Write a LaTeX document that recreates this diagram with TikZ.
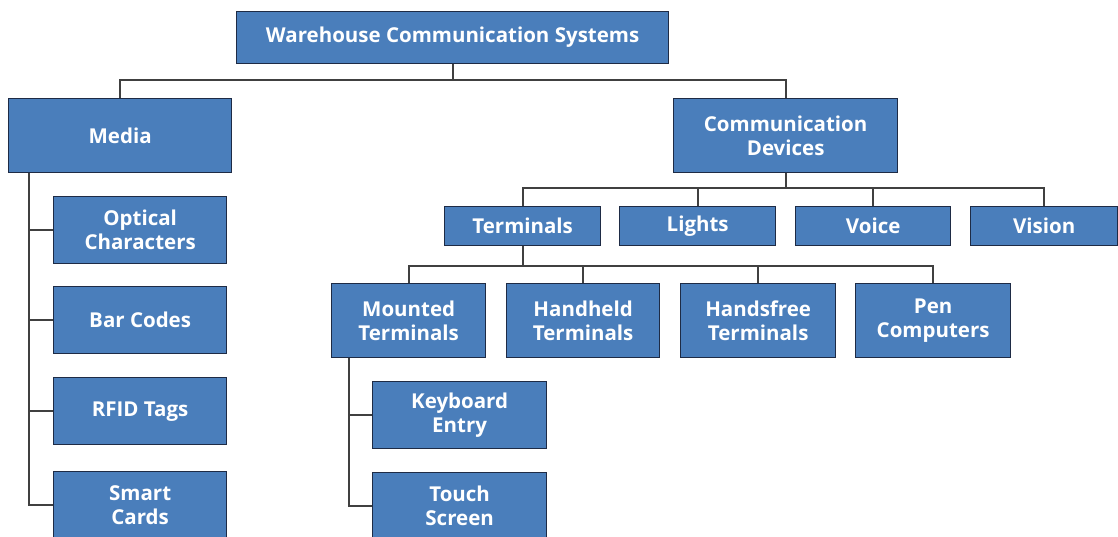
\documentclass[tikz,border=0pt]{standalone}
\usepackage{fontspec}
\setmainfont{Open Sans}
\definecolor{boxblue}{HTML}{4A7EBB}
\definecolor{boxedge}{HTML}{1E2B45}
\definecolor{linegray}{HTML}{404040}
\begin{document}
\begin{tikzpicture}[x=1pt,y=-1pt,
  bx/.style={draw=boxedge,line width=1.3pt,fill=boxblue,text=white,font=\bfseries\fontsize{20.5}{24}\selectfont,align=center,inner sep=0pt,anchor=north west},
  ln/.style={draw=linegray,line width=1.8pt}]
\useasboundingbox (0,0) rectangle (1118,537);
\clip (0,0) rectangle (1118,537);
\newcommand\bxat[6]{\node[bx,minimum width=#4-#2,minimum height=#5-#3] (#1) at (#2,#3) {#6};}
\bxat{wcs}{236}{11}{668}{63}{Warehouse Communication Systems}
\bxat{media}{8}{98}{231}{172}{Media}
\bxat{cd}{673}{98}{897}{172}{Communication\\Devices}
\bxat{term}{444}{206}{600}{245}{Terminals}
\bxat{lights}{619}{206}{775}{245}{Lights}
\bxat{voice}{795}{206}{950}{245}{Voice}
\bxat{vision}{970}{206}{1117}{245}{Vision}
\bxat{mt}{331}{283}{485}{357}{Mounted\\Terminals}
\bxat{ht}{506}{283}{659}{357}{Handheld\\Terminals}
\bxat{hf}{680}{283}{835}{357}{Handsfree\\Terminals}
\bxat{pc}{855}{283}{1010}{357}{Pen\\Computers}
\bxat{ke}{372}{381}{546}{448}{Keyboard\\Entry}
\bxat{ts}{372}{472}{546}{539}{Touch\\Screen}
\bxat{oc}{53}{196}{226}{263}{Optical\\Characters}
\bxat{bc}{53}{286}{226}{353}{Bar Codes}
\bxat{rf}{53}{377}{226}{444}{RFID Tags}
\bxat{sc}{53}{471}{226}{538}{Smart\\Cards}
% connectors
\coordinate (l1) at (0,80);
\draw[ln] (wcs.south) -- (wcs.south |- l1);
\draw[ln] (media.north) -- (media.north |- l1) -- (cd.north |- l1) -- (cd.north);
\coordinate (l2) at (0,188);
\draw[ln] (cd.south) -- (cd.south |- l2);
\draw[ln] (term.north) -- (term.north |- l2) -- (vision.north |- l2) -- (vision.north);
\draw[ln] (lights.north) -- (lights.north |- l2);
\draw[ln] (voice.north) -- (voice.north |- l2);
\coordinate (l3) at (0,266);
\draw[ln] (term.south) -- (term.south |- l3);
\draw[ln] (mt.north) -- (mt.north |- l3) -- (pc.north |- l3) -- (pc.north);
\draw[ln] (ht.north) -- (ht.north |- l3);
\draw[ln] (hf.north) -- (hf.north |- l3);
\coordinate (mtr) at (349,0);
\draw[ln] (mtr |- mt.south) -- (mtr |- ts.west) -- (ts.west);
\draw[ln] (mtr |- ke.west) -- (ke.west);
\coordinate (mer) at (29,0);
\draw[ln] (mer |- media.south) -- (mer |- sc.west) -- (sc.west);
\draw[ln] (mer |- oc.west) -- (oc.west);
\draw[ln] (mer |- bc.west) -- (bc.west);
\draw[ln] (mer |- rf.west) -- (rf.west);
\end{tikzpicture}
\end{document}
